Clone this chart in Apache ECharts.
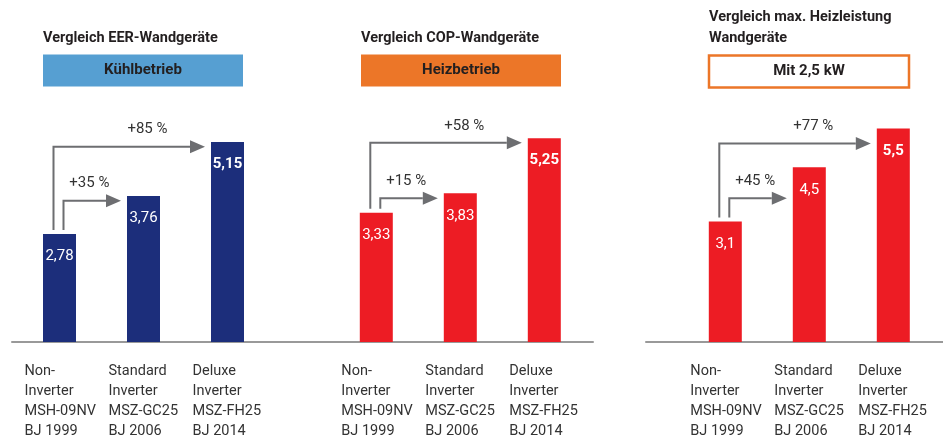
<!DOCTYPE html>
<html>
<head>
<meta charset="utf-8">
<title>Vergleich Wandgeräte</title>
<script src="https://cdn.jsdelivr.net/npm/echarts@6/dist/echarts.min.js"></script>
<style>
  body { margin: 0; background: #fff; }
  #chart { width: 943px; height: 439px; }
</style>
</head>
<body>
<div id="chart"></div>
<script>
// Daten
const categories = [
  'Non-\nInverter\nMSH-09NV\nBJ 1999',
  'Standard\nInverter\nMSZ-GC25\nBJ 2006',
  'Deluxe\nInverter\nMSZ-FH25\nBJ 2014'
]
const eerValues = [2.78, 3.76, 5.15]
const copValues = [3.33, 3.83, 5.25]
const heizValues = [3.1, 4.5, 5.5]

// Pfeile: [von, nach, Höhe der Linie]
const eerArrows = [[0, 1, 3.64], [0, 2, 5.03]]
const copArrows = [[0, 1, 3.70], [0, 2, 5.13]]
const heizArrows = [[0, 1, 3.70], [0, 2, 5.11]]
const eerArrowLabels = ['+35 %', '+85 %']
const copArrowLabels = ['+15 %', '+58 %']
const heizArrowLabels = ['+45 %', '+77 %']

const FONT = "Roboto, 'Liberation Sans', sans-serif"
const BAR_W = 33
const GREY = '#6d6e71'

const panels = [
  { values: eerValues, arrows: eerArrows, labels: eerArrowLabels, color: '#1c2e7b', left: 17.5 },
  { values: copValues, arrows: copArrows, labels: copArrowLabels, color: '#ed1c24', left: 334.3 },
  { values: heizValues, arrows: heizArrows, labels: heizArrowLabels, color: '#ed1c24', left: 683.3 }
]

const fmt = v => String(v).replace('.', ',')

function arrowRenderer(panel) {
  return function (params, api) {
    const from = api.value(0)
    const to = api.value(1)
    const level = api.value(2)
    const long = to - from > 1
    const pBar = api.coord([from, panel.values[from]])
    const pLevel = api.coord([to, level])
    const x0 = pBar[0] + (long ? -6 : 4)
    const y0 = pBar[1] - 4
    const y1 = pLevel[1]
    const tip = pLevel[0] - BAR_W / 2 - 6
    const base = tip - 15
    const f = long ? 0.62 : 0.45
    return {
      type: 'group',
      children: [
        {
          type: 'polyline',
          shape: { points: [[x0, y0], [x0, y1], [base, y1]] },
          style: { stroke: GREY, lineWidth: 2, fill: null }
        },
        {
          type: 'polygon',
          shape: { points: [[base, y1 - 6.5], [tip, y1], [base, y1 + 6.5]] },
          style: { fill: GREY }
        },
        {
          type: 'text',
          x: x0 + (tip - x0) * f,
          y: y1 - 17,
          style: {
            text: panel.labels[params.dataIndex],
            align: 'center',
            verticalAlign: 'middle',
            fontSize: 15,
            fontFamily: FONT,
            fill: '#333'
          }
        }
      ]
    }
  }
}

const grid = []
const xAxis = []
const yAxis = []
const series = []

panels.forEach((p, i) => {
  grid.push({ left: p.left, width: 252, top: 109, bottom: 97 })
  xAxis.push({
    type: 'category',
    gridIndex: i,
    data: categories,
    axisLine: { show: false },
    axisTick: { show: false },
    axisLabel: {
      interval: 0,
      margin: 19,
      formatter: v => v.split('\n').map(l => '{a|' + l + '}').join('\n'),
      rich: {
        a: { width: 70, align: 'left', lineHeight: 20, fontSize: 14.5, color: '#333', fontFamily: FONT }
      }
    }
  })
  yAxis.push({ type: 'value', gridIndex: i, min: 0, max: 6, show: false })
  series.push({
    type: 'bar',
    xAxisIndex: i,
    yAxisIndex: i,
    barWidth: BAR_W,
    itemStyle: { color: p.color },
    data: p.values.map((v, k) => ({
      value: v,
      label: { fontWeight: k === 2 ? 'bold' : 'normal' }
    })),
    label: {
      show: true,
      position: 'insideTop',
      distance: 15,
      color: '#fff',
      fontSize: 15,
      fontFamily: FONT,
      formatter: d => fmt(d.value)
    }
  })
  series.push({
    type: 'custom',
    xAxisIndex: i,
    yAxisIndex: i,
    clip: false,
    silent: true,
    encode: { x: [0, 1], y: 2 },
    renderItem: arrowRenderer(p),
    data: p.arrows
  })
})

// Grundlinien (zwei durchgehende Achsenlinien)
const baseLines = [{ left: 12, width: 581 }, { left: 646, width: 297 }]
baseLines.forEach((b, j) => {
  const gi = panels.length + j
  grid.push({ left: b.left, width: b.width, top: 109, bottom: 97 })
  xAxis.push({
    type: 'value',
    gridIndex: gi,
    min: 0,
    max: 1,
    axisLine: { show: true, lineStyle: { color: '#999', width: 2 } },
    axisTick: { show: false },
    axisLabel: { show: false },
    splitLine: { show: false }
  })
  yAxis.push({ type: 'value', gridIndex: gi, min: 0, max: 1, show: false })
})

// Überschriften und Kästen
function header(x, lines, boxText, boxStyle, boxTop) {
  return {
    type: 'group',
    children: [
      {
        type: 'text',
        x: x,
        y: lines.length > 1 ? 7 : 28,
        style: {
          text: lines.join('\n'),
          fontSize: 14.5,
          fontWeight: 'bold',
          lineHeight: 21,
          fontFamily: FONT,
          fill: '#231f20'
        }
      },
      {
        type: 'rect',
        shape: { x: x, y: boxTop, width: 200, height: 32 },
        style: boxStyle
      },
      {
        type: 'text',
        x: x + 100,
        y: boxTop + 16,
        style: {
          text: boxText,
          align: 'center',
          verticalAlign: 'middle',
          fontSize: 15,
          fontWeight: 'bold',
          fontFamily: FONT,
          fill: '#231f20'
        }
      }
    ]
  }
}

const option = {
  animation: false,
  grid: grid,
  xAxis: xAxis,
  yAxis: yAxis,
  series: series,
  graphic: [
    header(43, ['Vergleich EER-Wandgeräte'], 'Kühlbetrieb', { fill: '#569fd2' }, 54.5),
    header(361, ['Vergleich COP-Wandgeräte'], 'Heizbetrieb', { fill: '#ec7628' }, 54.5),
    header(709, ['Vergleich max. Heizleistung', 'Wandgeräte'], 'Mit 2,5 kW',
      { fill: '#fff', stroke: '#ec7628', lineWidth: 2.5 }, 55.5)
  ]
}

const myChart = echarts.init(document.getElementById('chart'))
myChart.setOption(option)
</script>
</body>
</html>
